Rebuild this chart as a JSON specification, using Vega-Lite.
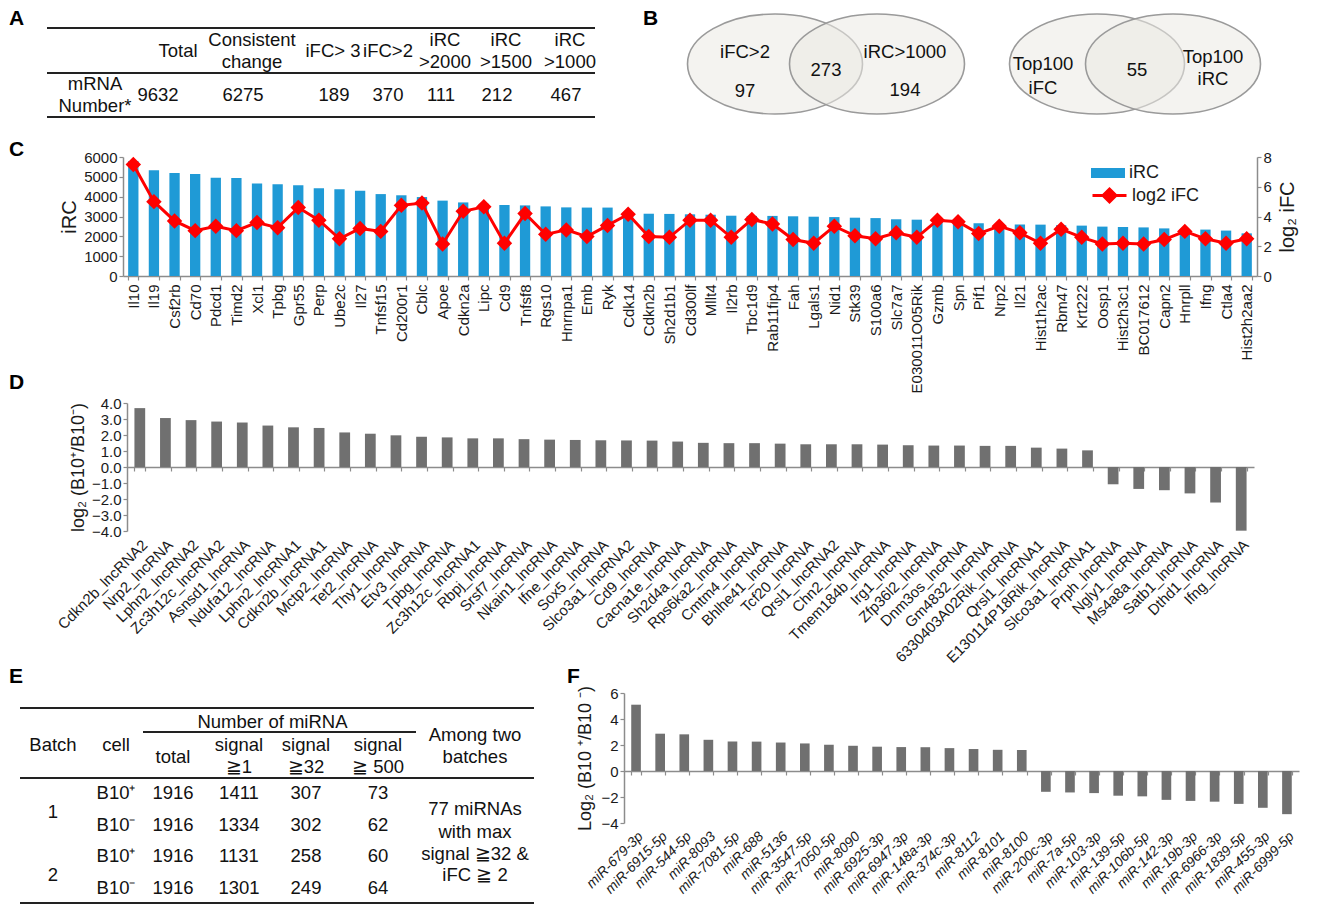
{
  "$schema": "https://vega.github.io/schema/vega-lite/v6.json",
  "width": 1321,
  "height": 906,
  "autosize": {"type": "none"},
  "padding": 0,
  "background": "white",
  "config": {
    "font": "Liberation Sans",
    "view": {"stroke": null},
    "axis": {"domainColor": "#8c8c8c", "tickColor": "#8c8c8c", "labelColor": "#1a1a1a", "titleColor": "#1a1a1a", "grid": false, "labelFont": "Liberation Sans", "titleFont": "Liberation Sans", "titleFontWeight": "normal", "tickSize": 4, "domainWidth": 1.5, "tickWidth": 1.2, "labelOverlap": false},
    "legend": {"labelFont": "Liberation Sans", "labelFontSize": 18, "labelColor": "#1a1a1a"},
    "text": {"font": "Liberation Sans", "fontSize": 18.5, "color": "#111111"}
  },
  "datasets": {
    "letters": [
      {"t": "A", "c": 0, "r": 0},
      {"t": "B", "c": 2, "r": 0},
      {"t": "C", "c": 0, "r": 1},
      {"t": "D", "c": 0, "r": 2},
      {"t": "E", "c": 0, "r": 3},
      {"t": "F", "c": 1, "r": 3}
    ],
    "tAh": [
      {"col": 1, "line": 1.5, "text": "Total"},
      {"col": 2, "line": 1, "text": "Consistent"},
      {"col": 2, "line": 2, "text": "change"},
      {"col": 3, "line": 1.5, "text": "iFC> 3"},
      {"col": 4, "line": 1.5, "text": "iFC>2"},
      {"col": 5, "line": 1, "text": "iRC"},
      {"col": 5, "line": 2, "text": ">2000"},
      {"col": 6, "line": 1, "text": "iRC"},
      {"col": 6, "line": 2, "text": ">1500"},
      {"col": 7, "line": 1, "text": "iRC"},
      {"col": 7, "line": 2, "text": ">1000"}
    ],
    "tAd": [
      {"col": 0, "line": 3, "text": "mRNA"},
      {"col": 0, "line": 4, "text": "Number*"},
      {"col": 1, "line": 3.5, "text": "9632"},
      {"col": 2, "line": 3.5, "text": "6275"},
      {"col": 3, "line": 3.5, "text": "189"},
      {"col": 4, "line": 3.5, "text": "370"},
      {"col": 5, "line": 3.5, "text": "111"},
      {"col": 6, "line": 3.5, "text": "212"},
      {"col": 7, "line": 3.5, "text": "467"}
    ],
    "rA": [{"line": 0, "c1": -0.5, "c2": 7.5}, {"line": 2.5, "c1": -0.5, "c2": 7.5}, {"line": 4.5, "c1": -0.5, "c2": 7.5}],
    "vEll": [{"slot": 1, "line": 1.615}, {"slot": 3, "line": 1.615}, {"slot": 6, "line": 1.615}, {"slot": 8, "line": 1.615}],
    "vTxt": [
      {"slot": 0, "line": 1, "text": "iFC>2"},
      {"slot": 0, "line": 3, "text": "97"},
      {"slot": 2, "line": 1.92, "text": "273"},
      {"slot": 4, "line": 1, "text": "iRC>1000"},
      {"slot": 4, "line": 2.95, "text": "194"},
      {"slot": 5, "line": 1.615, "text": "Top100"},
      {"slot": 5, "line": 2.85, "text": "iFC"},
      {"slot": 7, "line": 1.92, "text": "55"},
      {"slot": 9, "line": 1.26, "text": "Top100"},
      {"slot": 9, "line": 2.38, "text": "iRC"}
    ],
    "C": [
      {"g": "Il10", "irc": 5800, "lfc": 7.5},
      {"g": "Il19", "irc": 5330, "lfc": 5.0},
      {"g": "Csf2rb", "irc": 5190, "lfc": 3.7},
      {"g": "Cd70", "irc": 5140, "lfc": 3.05},
      {"g": "Pdcd1", "irc": 4960, "lfc": 3.35},
      {"g": "Timd2", "irc": 4940, "lfc": 3.05},
      {"g": "Xcl1", "irc": 4660, "lfc": 3.6},
      {"g": "Tpbg", "irc": 4620, "lfc": 3.25},
      {"g": "Gpr55", "irc": 4570, "lfc": 4.6},
      {"g": "Perp", "irc": 4420, "lfc": 3.75},
      {"g": "Ube2c", "irc": 4370, "lfc": 2.5},
      {"g": "Il27", "irc": 4300, "lfc": 3.2},
      {"g": "Tnfsf15", "irc": 4130, "lfc": 3.0},
      {"g": "Cd200r1", "irc": 4070, "lfc": 4.75},
      {"g": "Cblc", "irc": 3980, "lfc": 4.9},
      {"g": "Apoe", "irc": 3800, "lfc": 2.15},
      {"g": "Cdkn2a", "irc": 3710, "lfc": 4.35},
      {"g": "Lipc", "irc": 3640, "lfc": 4.65},
      {"g": "Cd9", "irc": 3580, "lfc": 2.2},
      {"g": "Tnfsf8", "irc": 3560, "lfc": 4.2},
      {"g": "Rgs10", "irc": 3510, "lfc": 2.8},
      {"g": "Hnrnpa1", "irc": 3460, "lfc": 3.1},
      {"g": "Emb", "irc": 3450, "lfc": 2.65},
      {"g": "Ryk", "irc": 3450, "lfc": 3.4},
      {"g": "Cdk14", "irc": 3200, "lfc": 4.15},
      {"g": "Cdkn2b", "irc": 3140, "lfc": 2.65},
      {"g": "Sh2d1b1", "irc": 3130, "lfc": 2.6},
      {"g": "Cd300lf", "irc": 3110, "lfc": 3.75},
      {"g": "Mllt4", "irc": 3090, "lfc": 3.75},
      {"g": "Il2rb", "irc": 3040, "lfc": 2.6},
      {"g": "Tbc1d9", "irc": 3030, "lfc": 3.8},
      {"g": "Rab11fip4", "irc": 3030, "lfc": 3.5},
      {"g": "Fah", "irc": 3010, "lfc": 2.45},
      {"g": "Lgals1", "irc": 2990, "lfc": 2.2},
      {"g": "Nid1", "irc": 2970, "lfc": 3.35},
      {"g": "Stk39", "irc": 2940, "lfc": 2.7},
      {"g": "S100a6", "irc": 2920, "lfc": 2.5},
      {"g": "Slc7a7", "irc": 2860, "lfc": 2.9},
      {"g": "E030011O05Rik", "irc": 2840, "lfc": 2.6},
      {"g": "Gzmb", "irc": 2800, "lfc": 3.75},
      {"g": "Spn", "irc": 2700, "lfc": 3.65},
      {"g": "Pif1", "irc": 2660, "lfc": 2.85},
      {"g": "Nrp2", "irc": 2620, "lfc": 3.35},
      {"g": "Il21", "irc": 2600, "lfc": 2.9},
      {"g": "Hist1h2ac", "irc": 2590, "lfc": 2.2},
      {"g": "Rbm47", "irc": 2560, "lfc": 3.15},
      {"g": "Krt222", "irc": 2540, "lfc": 2.6},
      {"g": "Oosp1", "irc": 2490, "lfc": 2.15},
      {"g": "Hist2h3c1", "irc": 2470, "lfc": 2.2},
      {"g": "BC017612", "irc": 2450, "lfc": 2.15},
      {"g": "Capn2", "irc": 2400, "lfc": 2.45},
      {"g": "Hnrpll", "irc": 2370, "lfc": 3.0},
      {"g": "Ifng", "irc": 2340, "lfc": 2.5},
      {"g": "Ctla4", "irc": 2290, "lfc": 2.2},
      {"g": "Hist2h2aa2", "irc": 2150, "lfc": 2.5}
    ],
    "D": [
      {"n": "Cdkn2b_lncRNA2", "v": 3.68},
      {"n": "Nrp2_lncRNA", "v": 3.06},
      {"n": "Lphn2_lncRNA2", "v": 2.93},
      {"n": "Zc3h12c_lncRNA2", "v": 2.84},
      {"n": "Asnsd1_lncRNA", "v": 2.78},
      {"n": "Ndufa12_lncRNA", "v": 2.59},
      {"n": "Lphn2_lncRNA1", "v": 2.48},
      {"n": "Cdkn2b_lncRNA1", "v": 2.44},
      {"n": "Mctp2_lncRNA", "v": 2.16},
      {"n": "Tet2_lncRNA", "v": 2.08},
      {"n": "Thy1_lncRNA", "v": 1.98},
      {"n": "Etv3_lncRNA", "v": 1.89},
      {"n": "Tpbg_lncRNA", "v": 1.85},
      {"n": "Zc3h12c_lncRNA1", "v": 1.79},
      {"n": "Rbpj_lncRNA", "v": 1.79},
      {"n": "Srsf7_lncRNA", "v": 1.74},
      {"n": "Nkain1_lncRNA", "v": 1.71},
      {"n": "Ifne_lncRNA", "v": 1.69},
      {"n": "Sox5_lncRNA", "v": 1.67},
      {"n": "Slco3a1_lncRNA2", "v": 1.66},
      {"n": "Cd9_lncRNA", "v": 1.65},
      {"n": "Cacna1e_lncRNA", "v": 1.59},
      {"n": "Sh2d4a_lncRNA", "v": 1.51},
      {"n": "Rps6ka2_lncRNA", "v": 1.49},
      {"n": "Cmtm4_lncRNA", "v": 1.49},
      {"n": "Bhlhe41_lncRNA", "v": 1.46},
      {"n": "Tcf20_lncRNA", "v": 1.42},
      {"n": "Qrsl1_lncRNA2", "v": 1.42},
      {"n": "Chn2_lncRNA", "v": 1.42},
      {"n": "Tmem184b_lncRNA", "v": 1.4},
      {"n": "Irg1_lncRNA", "v": 1.36},
      {"n": "Zfp36l2_lncRNA", "v": 1.34},
      {"n": "Dnm3os_lncRNA", "v": 1.34},
      {"n": "Gm4832_lncRNA", "v": 1.32},
      {"n": "6330403A02Rik_lncRNA", "v": 1.32},
      {"n": "Qrsl1_lncRNA1", "v": 1.21},
      {"n": "E130114P18Rik_lncRNA", "v": 1.15},
      {"n": "Slco3a1_lncRNA1", "v": 1.04},
      {"n": "Prph_lncRNA", "v": -1.08},
      {"n": "Ngly1_lncRNA", "v": -1.37},
      {"n": "Ms4a8a_lncRNA", "v": -1.45},
      {"n": "Satb1_lncRNA", "v": -1.65},
      {"n": "Dthd1_lncRNA", "v": -2.22},
      {"n": "Ifng_lncRNA", "v": -3.98}
    ],
    "F": [
      {"m": "miR-679-3p", "v": 5.1},
      {"m": "miR-6915-5p", "v": 2.87},
      {"m": "miR-544-5p", "v": 2.82},
      {"m": "miR-8093", "v": 2.4},
      {"m": "miR-7081-5p", "v": 2.27},
      {"m": "miR-688", "v": 2.26},
      {"m": "miR-5136", "v": 2.19},
      {"m": "miR-3547-5p", "v": 2.12},
      {"m": "miR-7050-5p", "v": 2.02},
      {"m": "miR-8090", "v": 1.94},
      {"m": "miR-6925-3p", "v": 1.87},
      {"m": "miR-6947-3p", "v": 1.84},
      {"m": "miR-148a-3p", "v": 1.83},
      {"m": "miR-374c-3p", "v": 1.76},
      {"m": "miR-8112", "v": 1.69},
      {"m": "miR-8101", "v": 1.63},
      {"m": "miR-8100", "v": 1.62},
      {"m": "miR-200c-3p", "v": -1.6},
      {"m": "miR-7a-5p", "v": -1.65},
      {"m": "miR-103-3p", "v": -1.7},
      {"m": "miR-139-5p", "v": -1.9},
      {"m": "miR-106b-5p", "v": -1.95},
      {"m": "miR-142-3p", "v": -2.22},
      {"m": "miR-19b-3p", "v": -2.3},
      {"m": "miR-6966-3p", "v": -2.36},
      {"m": "miR-1839-5p", "v": -2.53},
      {"m": "miR-455-3p", "v": -2.83},
      {"m": "miR-6999-5p", "v": -3.32}
    ],
    "tE": [
      {"col": 3.5, "line": 1, "text": "Number of miRNA"},
      {"col": 0, "line": 2, "text": "Batch"},
      {"col": 1, "line": 2, "text": "cell"},
      {"col": 2, "line": 2.5, "text": "total"},
      {"col": 3, "line": 2, "text": "signal"},
      {"col": 3, "line": 3, "text": "≧1"},
      {"col": 4, "line": 2, "text": "signal"},
      {"col": 4, "line": 3, "text": "≧32"},
      {"col": 5, "line": 2, "text": "signal"},
      {"col": 5, "line": 3, "text": "≧ 500"},
      {"col": 6, "line": 1.62, "text": "Among two"},
      {"col": 6, "line": 2.5, "text": "batches"},
      {"col": 0, "line": 4.6, "text": "1"},
      {"col": 1, "line": 4, "text": "B10⁺"},
      {"col": 2, "line": 4, "text": "1916"},
      {"col": 3, "line": 4, "text": "1411"},
      {"col": 4, "line": 4, "text": "307"},
      {"col": 5, "line": 4, "text": "73"},
      {"col": 1, "line": 5, "text": "B10⁻"},
      {"col": 2, "line": 5, "text": "1916"},
      {"col": 3, "line": 5, "text": "1334"},
      {"col": 4, "line": 5, "text": "302"},
      {"col": 5, "line": 5, "text": "62"},
      {"col": 0, "line": 6.6, "text": "2"},
      {"col": 1, "line": 6, "text": "B10⁺"},
      {"col": 2, "line": 6, "text": "1916"},
      {"col": 3, "line": 6, "text": "1131"},
      {"col": 4, "line": 6, "text": "258"},
      {"col": 5, "line": 6, "text": "60"},
      {"col": 1, "line": 7, "text": "B10⁻"},
      {"col": 2, "line": 7, "text": "1916"},
      {"col": 3, "line": 7, "text": "1301"},
      {"col": 4, "line": 7, "text": "249"},
      {"col": 5, "line": 7, "text": "64"},
      {"col": 6, "line": 4.5, "text": "77 miRNAs"},
      {"col": 6, "line": 5.22, "text": "with max"},
      {"col": 6, "line": 5.94, "text": "signal ≧32 &"},
      {"col": 6, "line": 6.6, "text": "iFC ≧ 2"}
    ],
    "rE": [
      {"line": 0, "c1": -0.5, "c2": 6.5},
      {"line": 1.5, "c1": 1.5, "c2": 5.5},
      {"line": 3.5, "c1": -0.5, "c2": 6.5},
      {"line": 7.5, "c1": -0.5, "c2": 6.5}
    ]
  },
  "layer": [
    {
      "data": {"name": "letters"},
      "mark": {"type": "text", "fontSize": 21, "fontWeight": "bold", "align": "left", "baseline": "middle", "color": "#000000"},
      "encoding": {
        "x": {"field": "c", "type": "quantitative", "scale": {"domain": [0, 1, 2], "range": [9, 567, 643]}, "axis": null},
        "y": {"field": "r", "type": "quantitative", "scale": {"domain": [0, 1, 2, 3], "range": [19, 150, 383, 677]}, "axis": null},
        "text": {"field": "t"}
      }
    },
    {
      "data": {"name": "tAh"},
      "mark": {"type": "text", "fontSize": 18.5},
      "encoding": {
        "x": {"field": "col", "type": "quantitative", "scale": {"domain": [-0.5, 0, 1, 2, 3, 4, 5, 6, 7, 7.5], "range": [47, 95, 178, 252, 333, 388, 445, 506, 570, 595]}, "axis": null},
        "y": {"field": "line", "type": "quantitative", "scale": {"domain": [0, 1, 2, 2.5, 3, 4, 4.5], "range": [28, 40, 62, 73, 84, 106, 117]}, "axis": null},
        "text": {"field": "text"}
      }
    },
    {
      "data": {"name": "tAd"},
      "mark": {"type": "text", "fontSize": 18.5},
      "encoding": {
        "x": {"field": "col", "type": "quantitative", "scale": {"domain": [-0.5, 0, 1, 2, 3, 4, 5, 6, 7, 7.5], "range": [47, 95, 158, 243, 334, 388, 441, 497, 566, 595]}, "axis": null},
        "y": {"field": "line", "type": "quantitative", "scale": {"domain": [0, 1, 2, 2.5, 3, 4, 4.5], "range": [28, 40, 62, 73, 84, 106, 117]}, "axis": null},
        "text": {"field": "text"}
      }
    },
    {
      "data": {"name": "rA"},
      "mark": {"type": "rule", "color": "#222222", "strokeWidth": 2},
      "encoding": {
        "x": {"field": "c1", "type": "quantitative", "scale": {"domain": [-0.5, 0, 1, 2, 3, 4, 5, 6, 7, 7.5], "range": [47, 95, 178, 252, 333, 388, 445, 506, 570, 595]}, "axis": null},
        "x2": {"field": "c2"},
        "y": {"field": "line", "type": "quantitative", "scale": {"domain": [0, 1, 2, 2.5, 3, 4, 4.5], "range": [28, 40, 62, 73, 84, 106, 117]}, "axis": null}
      }
    },
    {
      "data": {"name": "vEll"},
      "mark": {"type": "point", "shape": "M-1,0A1,0.571,0,1,1,1,0A1,0.571,0,1,1,-1,0Z", "size": 30625, "filled": true, "fill": "#ebeae4", "fillOpacity": 0.55, "stroke": "#9a9a9a", "strokeWidth": 1.6, "opacity": 1},
      "encoding": {
        "x": {"field": "slot", "type": "quantitative", "scale": {"domain": [0, 1, 2, 3, 4, 5, 6, 7, 8, 9], "range": [745, 775, 826, 877, 905, 1043, 1097, 1137, 1173, 1213]}, "axis": null},
        "y": {"field": "line", "type": "quantitative", "scale": {"domain": [1, 3], "range": [52, 91]}, "axis": null}
      }
    },
    {
      "data": {"name": "vTxt"},
      "mark": {"type": "text", "fontSize": 18.5},
      "encoding": {
        "x": {"field": "slot", "type": "quantitative", "scale": {"domain": [0, 1, 2, 3, 4, 5, 6, 7, 8, 9], "range": [745, 775, 826, 877, 905, 1043, 1097, 1137, 1173, 1213]}, "axis": null},
        "y": {"field": "line", "type": "quantitative", "scale": {"domain": [1, 3], "range": [52, 91]}, "axis": null},
        "text": {"field": "text"}
      }
    },
    {
      "data": {"name": "C"},
      "layer": [
        {
          "mark": {"type": "bar", "color": "#1f9ad6"},
          "encoding": {
            "x": {"field": "g", "type": "nominal", "sort": null, "scale": {"range": [123, 1257], "paddingInner": 0.5, "paddingOuter": 0.25}, "axis": {"orient": "bottom", "offset": -630, "title": null, "labelAngle": -90, "labelFontSize": 15, "labelPadding": 4, "tickBand": "extent"}},
            "y": {"field": "irc", "type": "quantitative", "scale": {"domain": [0, 6000], "range": [276, 157]}, "axis": {"orient": "left", "offset": -123, "title": "iRC", "titleFontSize": 20, "values": [0, 1000, 2000, 3000, 4000, 5000, 6000], "format": "d", "labelFontSize": 15, "titlePadding": 4}},
            "fill": {"datum": "iRC", "scale": {"range": ["#1f9ad6"]}, "legend": {"orient": "none", "legendX": 1091, "legendY": 156, "title": null, "symbolType": "M-1,-0.3H1V0.3H-1Z", "symbolSize": 1156, "symbolStrokeWidth": 0, "labelOffset": 4, "labelFontSize": 18}}
          }
        },
        {
          "mark": {"type": "line", "strokeWidth": 3, "point": {"shape": "diamond", "size": 160, "filled": true, "fill": "#ff0000"}},
          "encoding": {
            "x": {"field": "g", "type": "nominal", "sort": null, "scale": {"range": [123, 1257], "paddingInner": 0.5, "paddingOuter": 0.25}, "axis": {"orient": "bottom", "offset": -630, "title": null, "labelAngle": -90, "labelFontSize": 15, "labelPadding": 4, "tickBand": "extent"}},
            "y": {"field": "lfc", "type": "quantitative", "scale": {"domain": [0, 8], "range": [276, 157]}, "axis": {"orient": "right", "offset": -64, "title": "log₂ iFC", "titleFontSize": 20, "titleAngle": 270, "titleBaseline": "top", "titlePadding": 6, "values": [0, 2, 4, 6, 8], "labelFontSize": 15}},
            "stroke": {"datum": "log2 iFC", "scale": {"range": ["#ff0000"]}, "legend": {"orient": "none", "legendX": 1091, "legendY": 177, "title": null, "symbolType": "M-1,0H1M0,-0.38L0.38,0L0,0.38L-0.38,0Z", "symbolSize": 1156, "symbolStrokeWidth": 3, "labelOffset": 4, "labelFontSize": 18, "symbolFillColor": "#ff0000"}}
          }
        }
      ],
      "resolve": {"scale": {"y": "independent"}, "axis": {"y": "independent"}}
    },
    {
      "data": {"name": "D"},
      "layer": [
        {
          "mark": {"type": "bar", "color": "#707070"},
          "encoding": {
            "x": {"field": "n", "type": "nominal", "sort": null, "scale": {"range": [127, 1254], "paddingInner": 0.58, "paddingOuter": 0.29}, "axis": {"orient": "bottom", "offset": -375, "title": null, "labelAngle": -45, "labelFontSize": 15, "labelPadding": 6, "domain": false, "ticks": false}},
            "y": {"field": "v", "type": "quantitative", "scale": {"domain": [-4, 4], "range": [531, 403]}, "axis": {"orient": "left", "offset": -127, "title": "log₂ (B10⁺/B10⁻)", "titleFontSize": 18, "values": [-4, -3, -2, -1, 0, 1, 2, 3, 4], "format": ".1f", "labelFontSize": 15, "titlePadding": 4}}
          }
        },
        {
          "mark": {"type": "bar", "opacity": 0},
          "encoding": {
            "x": {"field": "n", "type": "nominal", "sort": null, "scale": {"range": [127, 1254], "paddingInner": 0.58, "paddingOuter": 0.29}, "axis": {"orient": "bottom", "offset": -439, "labels": false, "title": null, "tickBand": "extent", "domain": true, "ticks": true}},
            "y": {"field": "v", "type": "quantitative", "scale": {"domain": [-4, 4], "range": [531, 403]}, "axis": {"orient": "left", "offset": -127, "title": "log₂ (B10⁺/B10⁻)", "titleFontSize": 18, "values": [-4, -3, -2, -1, 0, 1, 2, 3, 4], "format": ".1f", "labelFontSize": 15, "titlePadding": 4}}
          }
        }
      ],
      "resolve": {"axis": {"x": "independent"}}
    },
    {
      "data": {"name": "tE"},
      "mark": {"type": "text", "fontSize": 18.5},
      "encoding": {
        "x": {"field": "col", "type": "quantitative", "scale": {"domain": [-0.5, 0, 1, 1.5, 2, 3, 4, 5, 5.5, 6, 6.5], "range": [20, 53, 116, 143, 173, 239, 306, 378, 416, 475, 534]}, "axis": null},
        "y": {"field": "line", "type": "quantitative", "scale": {"domain": [0, 1, 1.5, 2, 2.5, 3, 3.5, 4, 7, 7.5], "range": [708, 722, 732, 745, 757, 767, 778, 793, 888, 903]}, "axis": null},
        "text": {"field": "text"}
      }
    },
    {
      "data": {"name": "rE"},
      "mark": {"type": "rule", "color": "#222222", "strokeWidth": 2},
      "encoding": {
        "x": {"field": "c1", "type": "quantitative", "scale": {"domain": [-0.5, 0, 1, 1.5, 2, 3, 4, 5, 5.5, 6, 6.5], "range": [20, 53, 116, 143, 173, 239, 306, 378, 416, 475, 534]}, "axis": null},
        "x2": {"field": "c2"},
        "y": {"field": "line", "type": "quantitative", "scale": {"domain": [0, 1, 1.5, 2, 2.5, 3, 3.5, 4, 7, 7.5], "range": [708, 722, 732, 745, 757, 767, 778, 793, 888, 903]}, "axis": null}
      }
    },
    {
      "data": {"name": "F"},
      "layer": [
        {
          "mark": {"type": "bar", "color": "#707070"},
          "encoding": {
            "x": {"field": "m", "type": "nominal", "sort": null, "scale": {"range": [624, 1299], "paddingInner": 0.6, "paddingOuter": 0.3}, "axis": {"orient": "bottom", "offset": -83, "title": null, "labelAngle": -45, "labelFontSize": 14, "labelFontStyle": "italic", "labelPadding": 6, "domain": false, "ticks": false}},
            "y": {"field": "v", "type": "quantitative", "scale": {"domain": [-4, 6], "range": [823, 693]}, "axis": {"orient": "left", "offset": -624, "title": "Log₂ (B10 ⁺/B10 ⁻)", "titleFontSize": 18, "values": [-4, -2, 0, 2, 4, 6], "labelFontSize": 15, "titlePadding": 6}}
          }
        },
        {
          "mark": {"type": "bar", "opacity": 0},
          "encoding": {
            "x": {"field": "m", "type": "nominal", "sort": null, "scale": {"range": [624, 1299], "paddingInner": 0.6, "paddingOuter": 0.3}, "axis": {"orient": "bottom", "offset": -135, "labels": false, "title": null, "tickBand": "extent", "domain": true, "ticks": true}},
            "y": {"field": "v", "type": "quantitative", "scale": {"domain": [-4, 6], "range": [823, 693]}, "axis": {"orient": "left", "offset": -624, "title": "Log₂ (B10 ⁺/B10 ⁻)", "titleFontSize": 18, "values": [-4, -2, 0, 2, 4, 6], "labelFontSize": 15, "titlePadding": 6}}
          }
        }
      ],
      "resolve": {"axis": {"x": "independent"}}
    }
  ],
  "resolve": {
    "scale": {"x": "independent", "y": "independent", "fill": "independent", "stroke": "independent"},
    "axis": {"x": "independent", "y": "independent"}
  }
}
